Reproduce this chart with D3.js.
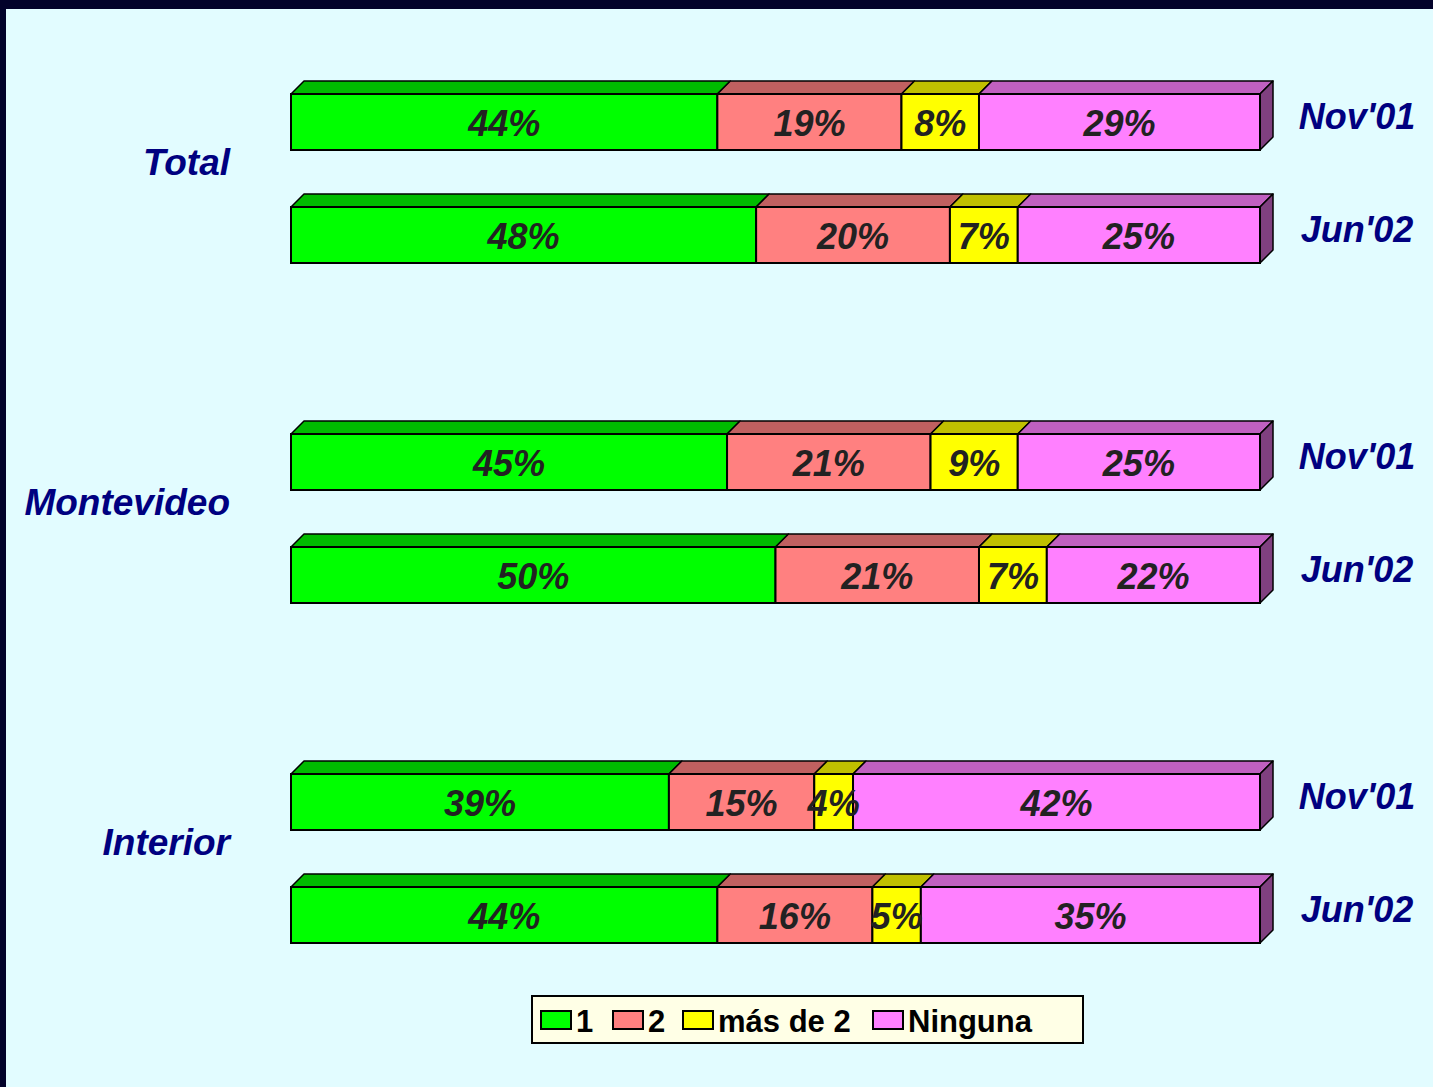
<!DOCTYPE html>
<html>
<head>
<meta charset="utf-8">
<script src="https://cdn.jsdelivr.net/npm/d3@7"></script>
<style>
html,body{margin:0;padding:0;background:#02022a;}
svg{display:block;}
</style>
</head>
<body>
<script>
const groups = ["Total", "Montevideo", "Interior"];
const periods = ["Nov'01", "Jun'02"];
const categories = ["1", "2", "más de 2", "Ninguna"];
const totalValues = [[44, 19, 8, 29], [48, 20, 7, 25]];
const montevideoValues = [[45, 21, 9, 25], [50, 21, 7, 22]];
const interiorValues = [[39, 15, 4, 42], [44, 16, 5, 35]];
const frontColors = ["#00ff00", "#ff8080", "#ffff00", "#ff80ff"];
const topColors = ["#00bb00", "#c06060", "#c0c000", "#c060c0"];
const sideColor = "#804080";

const valuesByGroup = {"Total": totalValues, "Montevideo": montevideoValues, "Interior": interiorValues};

const W = 1433, H = 1087;
const svg = d3.select("body").append("svg").attr("width", W).attr("height", H);

svg.append("rect").attr("x", 0).attr("y", 0).attr("width", W).attr("height", H).attr("fill", "#02022a");
svg.append("rect").attr("x", 6).attr("y", 9).attr("width", W - 6).attr("height", H - 9).attr("fill", "#e2fcff");

const x = d3.scaleLinear().domain([0, 100]).range([291, 1260]);
const gy = d3.scalePoint().domain(groups).range([94, 774]);
const py = d3.scalePoint().domain(periods).range([0, 113]);
const barH = 56, depth = 13;
const font = "'Liberation Sans', Arial, sans-serif";

const rows = [];
groups.forEach(g => {
  periods.forEach((p, i) => {
    const vals = valuesByGroup[g][i];
    let cum = 0;
    const segs = vals.map((v, k) => {
      const s = {k, v, x0: cum, x1: cum + v};
      cum += v;
      return s;
    });
    rows.push({g, p, y: gy(g) + py(p), segs});
  });
});

const rowG = svg.selectAll("g.row").data(rows).enter().append("g").attr("class", "row");

rowG.each(function(r) {
  const g = d3.select(this);
  // top faces
  g.selectAll("path.top").data(r.segs).enter().append("path")
    .attr("d", s => {
      const a = x(s.x0), b = x(s.x1), y = r.y;
      return `M${a},${y}L${a + depth},${y - depth}L${b + depth},${y - depth}L${b},${y}Z`;
    })
    .attr("fill", s => topColors[s.k]).attr("stroke", "#000").attr("stroke-width", 1.5).attr("stroke-linejoin", "round");
  // side face
  const last = r.segs[r.segs.length - 1];
  const bx = x(last.x1);
  g.append("path")
    .attr("d", `M${bx},${r.y}L${bx + depth},${r.y - depth}L${bx + depth},${r.y - depth + barH}L${bx},${r.y + barH}Z`)
    .attr("fill", sideColor).attr("stroke", "#000").attr("stroke-width", 1.5).attr("stroke-linejoin", "round");
  // front faces
  g.selectAll("rect.front").data(r.segs).enter().append("rect")
    .attr("x", s => x(s.x0)).attr("y", r.y)
    .attr("width", s => x(s.x1) - x(s.x0)).attr("height", barH)
    .attr("fill", s => frontColors[s.k]).attr("stroke", "#000").attr("stroke-width", 2);
  // labels
  g.selectAll("text.val").data(r.segs).enter().append("text")
    .attr("x", s => (x(s.x0) + x(s.x1)) / 2).attr("y", r.y + 42)
    .attr("text-anchor", "middle")
    .attr("font-family", font).attr("font-size", 36).attr("font-weight", "bold").attr("font-style", "italic")
    .attr("fill", "#222222")
    .text(s => s.v + "%");
  // period label
  g.append("text")
    .attr("x", 1357).attr("y", r.y + 35)
    .attr("text-anchor", "middle")
    .attr("font-family", font).attr("font-size", 36).attr("font-weight", "bold").attr("font-style", "italic")
    .attr("fill", "#000080")
    .text(r.p);
});

svg.selectAll("text.group").data(groups).enter().append("text")
  .attr("x", 230).attr("y", g => gy(g) + 81)
  .attr("text-anchor", "end")
  .attr("font-family", font).attr("font-size", 37).attr("font-weight", "bold").attr("font-style", "italic")
  .attr("fill", "#000080")
  .text(g => g);

// legend
const leg = svg.append("g");
leg.append("rect").attr("x", 532).attr("y", 996).attr("width", 551).attr("height", 47)
  .attr("fill", "#ffffe6").attr("stroke", "#000").attr("stroke-width", 2);
const legX = [541, 613, 683, 873];
categories.forEach((c, i) => {
  leg.append("rect").attr("x", legX[i]).attr("y", 1011).attr("width", 30).attr("height", 18)
    .attr("fill", frontColors[i]).attr("stroke", "#000").attr("stroke-width", 2);
  leg.append("text").attr("x", legX[i] + 35).attr("y", 1032)
    .attr("font-family", font).attr("font-size", 31).attr("font-weight", "bold")
    .attr("fill", "#000").text(c);
});
</script>
</body>
</html>
